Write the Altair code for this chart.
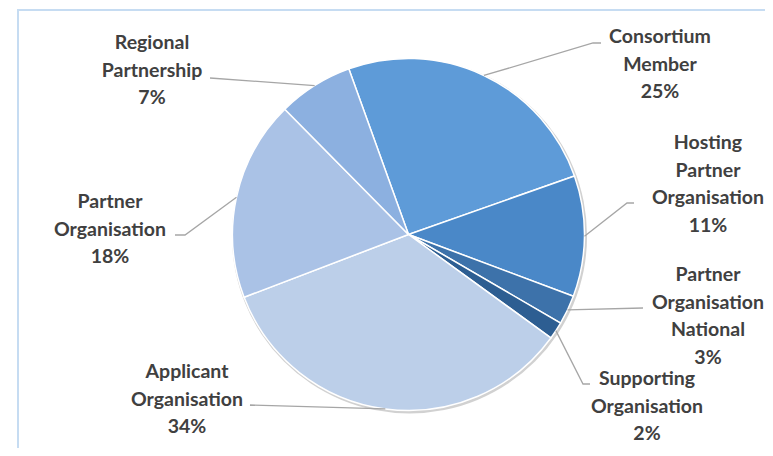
import altair as alt
import pandas as pd
import numpy as np

# ---- data (percent of responses) ----
categories = [
    "Consortium Member",
    "Hosting Partner Organisation",
    "Partner Organisation National",
    "Supporting Organisation",
    "Applicant Organisation",
    "Partner Organisation",
    "Regional Partnership",
]
values = [25.1, 11.1, 2.7, 1.6, 34.2, 18.4, 6.9]
label_lines = [
    ["Consortium", "Member"],
    ["Hosting", "Partner", "Organisation"],
    ["Partner", "Organisation", "National"],
    ["Supporting", "Organisation"],
    ["Applicant", "Organisation"],
    ["Partner", "Organisation"],
    ["Regional", "Partnership"],
]
colors = ["#5e9bd8", "#4a88c8", "#3d72aa", "#2d5e92", "#bccfe9", "#aac2e6", "#8cb0e0"]

# ---- layout (chart pixel coordinates) ----
W, H = 757, 440
CX, CY, R = 400.5, 226.5, 176
START = np.radians(-19.8)
# x centre and y of the first line of each label block
label_anchor = [(652, 29), (700, 135), (700, 267), (639, 371), (179, 364), (102, 194), (144, 35)]
leader_bend = [(585, 35), (619, 195), (635, 300), (575, 376), (242, 397), (177, 227), (202, 70)]
leader_end = [(593, 35), (626, 195), (635, 300), (582, 376), (242, 397), (167, 227), (202, 70)]

total = sum(values)
pie_df = pd.DataFrame({"cat": categories, "val": values, "idx": range(len(values))})

text_rows, line_rows = [], []
cum = 0.0
for i, (c, v) in enumerate(zip(categories, values)):
    mid = START + 2 * np.pi * (cum + v / 2) / total
    cum += v
    ex, ey = CX + R * np.sin(mid), CY - R * np.cos(mid)
    pts = [(ex, ey), leader_bend[i], leader_end[i]]
    for k, (px, py) in enumerate(pts):
        line_rows.append({"cat": c, "k": k, "x": px, "y": py})
    text_rows.append({
        "cat": c,
        "text": "\n".join(label_lines[i] + [f"{round(v):.0f}%"]),
        "x": label_anchor[i][0],
        "y": label_anchor[i][1],
    })
text_df = pd.DataFrame(text_rows)
line_df = pd.DataFrame(line_rows)
one = pd.DataFrame({"a": [0]})

frame = alt.Chart(one).mark_rect(fillOpacity=0, stroke="#c6dcf2", strokeWidth=2).encode(
    x=alt.value(10), x2=alt.value(900), y=alt.value(2), y2=alt.value(900)
)

shadow = alt.Chart(one).mark_arc(
    radius=R + 1.5, theta=0, theta2=2 * np.pi, color="#9a9a9a", opacity=0.45
).encode(x=alt.value(CX + 1), y=alt.value(CY + 1.5))

pie = alt.Chart(pie_df).mark_arc(radius=R, stroke="white", strokeWidth=1.5).encode(
    theta=alt.Theta("val:Q", stack=True, scale=alt.Scale(range=[START, START + 2 * np.pi])),
    color=alt.Color("cat:N", scale=alt.Scale(domain=categories, range=colors), legend=None),
    order=alt.Order("idx:Q"),
    x=alt.value(CX),
    y=alt.value(CY),
)

leaders = alt.Chart(line_df).mark_line(color="#a6a6a6", strokeWidth=1.3).encode(
    x=alt.X("x:Q", scale=None, axis=None),
    y=alt.Y("y:Q", scale=None, axis=None),
    detail="cat:N",
    order="k:Q",
)

labels = alt.Chart(text_df).mark_text(
    font="Lato", fontSize=19.5, fontWeight="bold", color="#404040",
    lineHeight=27.5, lineBreak="\n", align="center", baseline="middle",
).encode(
    x=alt.X("x:Q", scale=None, axis=None),
    y=alt.Y("y:Q", scale=None, axis=None),
    text="text:N",
)

chart = alt.layer(frame, shadow, pie, leaders, labels).properties(
    width=W, height=H, padding=0, autosize="none"
).configure_view(stroke=None)

chart.save("out.html", embed_options={"renderer": "svg", "actions": False})
